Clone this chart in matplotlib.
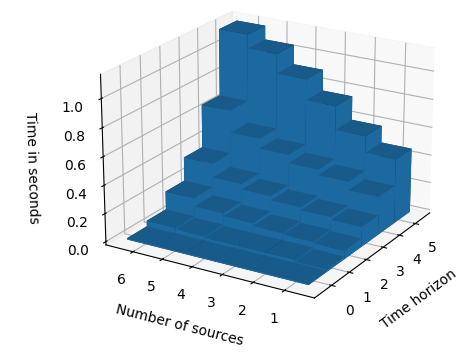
import numpy as np
import matplotlib
matplotlib.use('Agg')
import matplotlib.pyplot as plt

horizons = [0, 1, 2, 3, 4, 5]
sources = [1, 2, 3, 4, 5, 6]
# one row per time horizon, one column per number of sources
times = [
    [0.01, 0.01, 0.01, 0.01, 0.01, 0.01],
    [0.02, 0.03, 0.03, 0.03, 0.04, 0.05],
    [0.06, 0.07, 0.08, 0.10, 0.12, 0.18],
    [0.14, 0.16, 0.18, 0.21, 0.25, 0.35],
    [0.27, 0.33, 0.37, 0.43, 0.50, 0.66],
    [0.46, 0.58, 0.75, 0.90, 1.04, 1.14],
]

fig = plt.figure(figsize=(4.73, 3.58), dpi=100)
ax = fig.add_axes([0.042, 0.058, 1.04, 1.04], projection='3d')

xpos, ypos = np.meshgrid(horizons, sources, indexing='ij')
xpos = xpos.ravel() - 0.5
ypos = ypos.ravel() - 0.5
zpos = np.zeros_like(xpos)
dz = np.array(times).ravel()

ax.bar3d(xpos, ypos, zpos, 1, 1, dz, shade=True)
ax.view_init(elev=21, azim=211)

ax.set_xticks(horizons)
ax.set_yticks(sources)
ax.set_zticks([0.0, 0.2, 0.4, 0.6, 0.8, 1.0])
ax.set_xlabel('Time horizon', labelpad=8)
ax.set_ylabel('Number of sources', labelpad=8)
ax.set_zlabel('Time in seconds', labelpad=8)

fig.savefig('out.png', dpi=100)
